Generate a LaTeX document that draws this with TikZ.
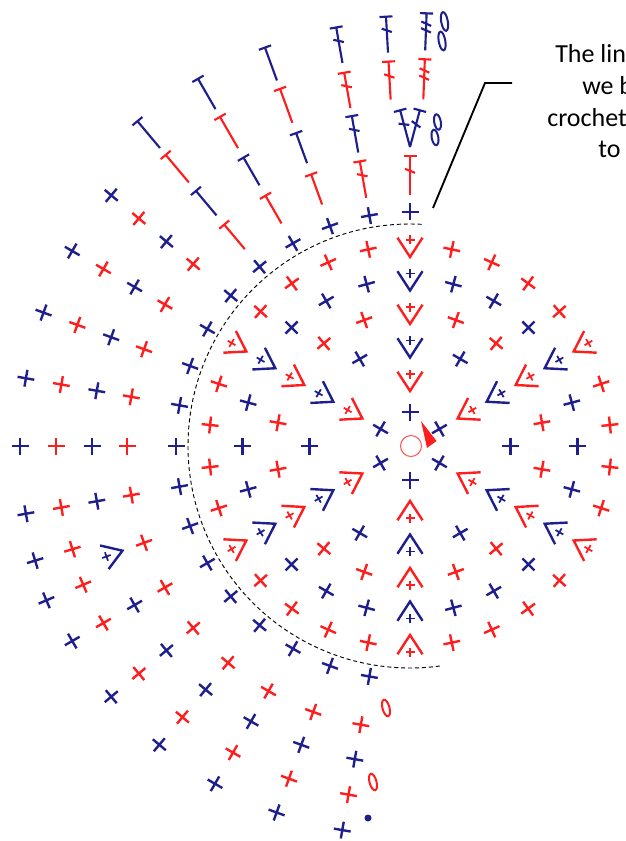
\documentclass[tikz,border=0pt]{standalone}
\usepackage{fontspec}
\setmainfont{Carlito}
\definecolor{cb}{RGB}{30,30,140}
\definecolor{cr}{RGB}{255,30,30}
\tikzset{
 stitch/.style={line width=1.8pt},
 tall/.style={line width=1.6pt},
 small/.style={line width=1.3pt},
 chain/.style={line width=1.5pt},
 guide/.style={line width=0.7pt, dash pattern=on 3pt off 2.2pt},
 callout/.style={line width=1.4pt, black},
 lbl/.style={font=\fontsize{19.5}{24}\selectfont, anchor=base west, inner sep=0pt, text=black},
}
\newcommand{\SC}[3]{\begin{scope}[rotate=#2]\draw[color=#1,stitch] ({#3-8.5},0)--({#3+8.5},0) (#3,-8.5)--(#3,8.5);\end{scope}}
\newcommand{\INC}[3]{\begin{scope}[rotate=#2]
 \draw[color=#1,stitch] ({#3-12},0) ++(33:23) -- ({#3-12},0) -- ++(-33:23);
 \draw[color=#1,small] ({#3+0.5},0)--({#3+9.5},0) ({#3+5},-4.5)--({#3+5},4.5);
\end{scope}}
\newcommand{\TST}[5]{\begin{scope}[rotate=#2]
 \draw[color=#1,tall] (#3,0)--(#4,0) (#4,-6.5)--(#4,6.5);
 \ifcase#5\or
   \pgfmathsetmacro\mm{#4-0.38*(#4-#3)}\draw[color=#1,tall] ({\mm-2},5)--({\mm+2},-5);
 \or
   \pgfmathsetmacro\mm{#4-0.28*(#4-#3)}\draw[color=#1,tall] ({\mm-2},5)--({\mm+2},-5);
   \pgfmathsetmacro\mm{#4-0.46*(#4-#3)}\draw[color=#1,tall] ({\mm-2},5)--({\mm+2},-5);
 \fi
\end{scope}}
\begin{document}
\begin{tikzpicture}[x=0.75pt,y=-0.75pt]
\useasboundingbox (0,0) rectangle (625,841);
\begin{scope}
\clip (0,0) rectangle (625,841);
% ---------- chart centred on the magic ring ----------
\begin{scope}[shift={(410,446)}]
 % round 1
 \foreach \s in {90,30,-30,-90,-150,150} {\SC{cb}{\s}{34}}
 % rounds 2-6
 \foreach \n/\c in {2/cr,3/cb,4/cr,5/cb,6/cr} {
   \pgfmathsetmacro\R{33.5*\n}
   \pgfmathtruncatemacro\m{\n-2}
   \foreach \s in {90,30,-30,-90,-150,150} {
     \INC{\c}{\s}{\R}
     \ifnum\m>0
       \foreach \k in {1,...,\m} {\pgfmathsetmacro\a{\s-60*\k/(\n-1)}\SC{\c}{\a}{\R}}
     \fi
   }
 }
 % rows 7-11, single crochet part
 \foreach \a in {260,250,240,230,220,210,190,180,170,160,150,140} {
   \SC{cb}{\a}{234}\SC{cr}{\a}{283}\SC{cb}{\a}{318}\SC{cr}{\a}{354}\SC{cb}{\a}{390}
 }
 \SC{cb}{200}{234}\SC{cr}{200}{283}\INC{cb}{200}{318}
 \SC{cr}{197}{353}\SC{cr}{203}{355}\SC{cb}{197}{392}\SC{cb}{203}{395}
 % tall stitches
 \foreach \a in {130,120,110} {
   \SC{cb}{\a}{234}
   \TST{cr}{\a}{257}{289}{0}\TST{cb}{\a}{301}{333}{0}
   \TST{cr}{\a}{344}{380}{0}\TST{cb}{\a}{389}{424}{0}
 }
 \SC{cb}{100}{234}
 \TST{cr}{100}{252}{289}{1}\TST{cb}{100}{298}{335}{1}
 \TST{cr}{100}{343}{379}{1}\TST{cb}{100}{389}{425}{1}
 \SC{cb}{90}{234}
 \TST{cr}{90}{251}{290}{1}
 \begin{scope}[rotate=90]
  \foreach \t in {15,-15} {
   \begin{scope}[shift={(299,0)},rotate=\t]
    \draw[color=cb,tall] (0,0)--(38,0) (38,-6.5)--(38,6.5) (21.5,5)--(25.5,-5);
   \end{scope}
  }
 \end{scope}
 \TST{cr}{93.2}{347}{385}{1}\TST{cr}{87.8}{347}{387}{2}
 \TST{cb}{93.2}{394}{430}{1}\TST{cb}{87.8}{396}{433}{2}
 % dashed guide line
 \begin{scope}[yscale=-1]
  \draw[guide] (87:222) arc[start angle=87, end angle=278, radius=222];
 \end{scope}
\end{scope}
% ---------- ring and direction marker ----------
\draw[cr!75, line width=0.8pt] (411,446) circle[radius=10.5];
\fill[cr] (421,421) -- (427,448) -- (436.5,441) -- cycle;
% ---------- chains and slip stitch ----------
\draw[cb,chain] (444.5,21.5) ellipse[x radius=3.3, y radius=9.5, rotate=10];
\draw[cb,chain] (442,41) ellipse[x radius=3.3, y radius=9.5, rotate=10];
\draw[cb,chain] (437.5,122) ellipse[x radius=3.3, y radius=7.8, rotate=10];
\draw[cb,chain] (435,137.5) ellipse[x radius=3.3, y radius=7.8, rotate=10];
\draw[cr,chain] (386,708) ellipse[x radius=3.5, y radius=8.5, rotate=15];
\draw[cr,chain] (373,782) ellipse[x radius=3.5, y radius=8.5, rotate=15];
\fill[cb] (368,818) circle[radius=3.5];
% ---------- callout ----------
\coordinate (p0) at (433,208);
\coordinate (p1) at (485,83);
\coordinate (p2) at (512,83);
\draw[callout] (p0) -- (p1) -- (p2);
\node[lbl] (t1) at (555,63) {The lin};
\node[lbl] (t2) at (582,95) {we b};
\node[lbl] (t3) at (547,127) {crochet};
\node[lbl] (t4) at (598,158) {to};
\end{scope}
\end{tikzpicture}
\end{document}
